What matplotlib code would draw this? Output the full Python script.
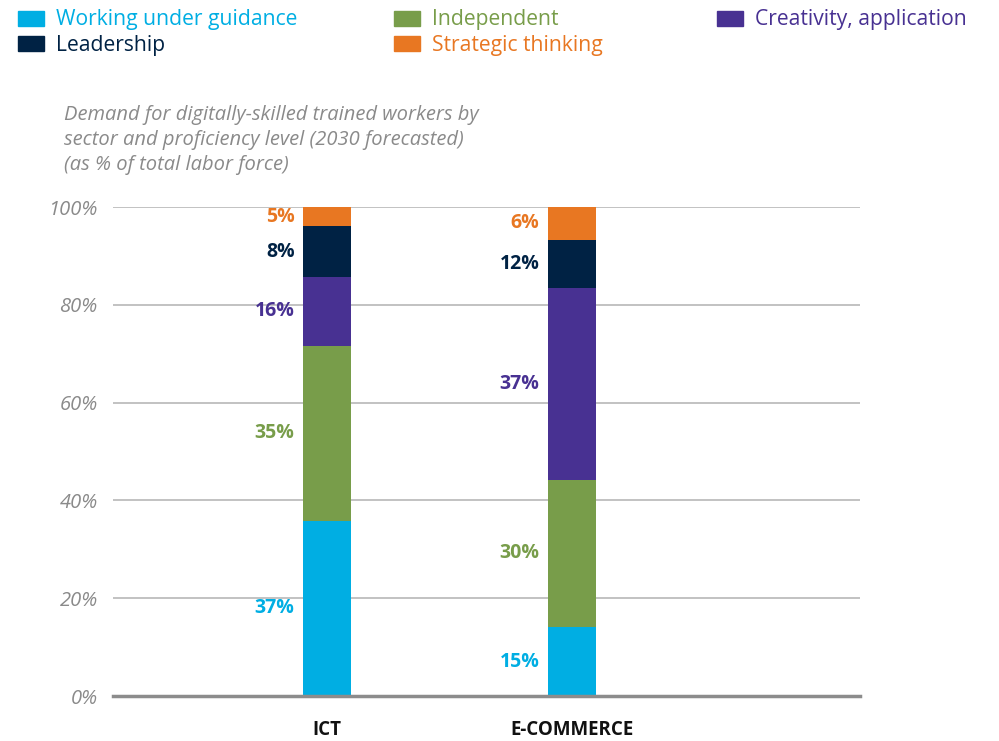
import matplotlib.pyplot as plt
from matplotlib.patches import Rectangle

plt.rcParams["font.family"] = ["Open Sans", "DejaVu Sans"]

sectors = ["ICT", "E-COMMERCE"]
levels = [
    "Working under guidance",
    "Independent",
    "Creativity, application",
    "Leadership",
    "Strategic thinking",
]
colors = ["#00aee3", "#789d4a", "#483192", "#002244", "#e87722"]

# segment heights as drawn (share of bar, %)
heights = {
    "Working under guidance": [35.8, 14.1],
    "Independent": [35.8, 30.1],
    "Creativity, application": [14.1, 39.2],
    "Leadership": [10.4, 9.9],
    "Strategic thinking": [3.9, 6.7],
}
# printed labels
labels = {
    "Working under guidance": ["37%", "15%"],
    "Independent": ["35%", "30%"],
    "Creativity, application": ["16%", "37%"],
    "Leadership": ["8%", "12%"],
    "Strategic thinking": ["5%", "6%"],
}
yticks = [0, 20, 40, 60, 80, 100]

fig = plt.figure(figsize=(9.99, 7.41), dpi=100)
ax = fig.add_axes([0.1131, 0.0607, 0.7477, 0.6599])

x = list(range(len(sectors)))
width = 0.196
bottom = [0.0] * len(sectors)
for lvl, col in zip(levels, colors):
    h = heights[lvl]
    ax.bar(x, h, width, bottom=bottom, color=col, zorder=3)
    for i in x:
        ax.annotate(
            labels[lvl][i],
            xy=(i - width / 2, bottom[i] + h[i] / 2),
            xytext=(-6, 0),
            textcoords="offset points",
            ha="right",
            va="center",
            fontsize=14,
            fontweight="bold",
            color=col,
        )
    bottom = [b + v for b, v in zip(bottom, h)]

ax.set_xlim(-0.873, 2.176)
ax.set_ylim(0, 100)
ax.set_yticks(yticks)
ax.set_yticklabels([f"{t}%" for t in yticks], fontsize=14.5, color="#8a8a8a",
                   fontstyle="italic")
ax.set_xticks(x)
ax.set_xticklabels(sectors, fontsize=13.5, fontweight="bold", color="#111111")
ax.tick_params(axis="y", length=0, pad=11)
ax.tick_params(axis="x", length=0, pad=17)
ax.grid(axis="y", color="#b8b8b8", lw=1.2, zorder=0)
for s in ["left", "right", "top"]:
    ax.spines[s].set_visible(False)
ax.spines["bottom"].set_color("#8c8c8c")
ax.spines["bottom"].set_linewidth(2.5)
ax.spines["bottom"].set_zorder(4)

fig.text(
    64 / 999, 1 - 105 / 741,
    "Demand for digitally-skilled trained workers by\n"
    "sector and proficiency level (2030 forecasted)\n"
    "(as % of total labor force)",
    ha="left", va="top", fontsize=14.5, fontstyle="italic", color="#8a8a8a",
    linespacing=1.33,
)

# legend
legend_pos = {
    "Working under guidance": (18, 11),
    "Leadership": (18, 36),
    "Independent": (394, 11),
    "Strategic thinking": (394, 36),
    "Creativity, application": (717, 11),
}
for lvl, col in zip(levels, colors):
    px, py = legend_pos[lvl]
    fig.patches.append(Rectangle((px / 999, 1 - (py + 15) / 741), 26 / 999, 15 / 741,
                                 transform=fig.transFigure, color=col))
    fig.text((px + 38) / 999, 1 - (py + 9) / 741, lvl, ha="left", va="center",
             fontsize=15.2, color=col)

fig.savefig("out.png", dpi=100)
